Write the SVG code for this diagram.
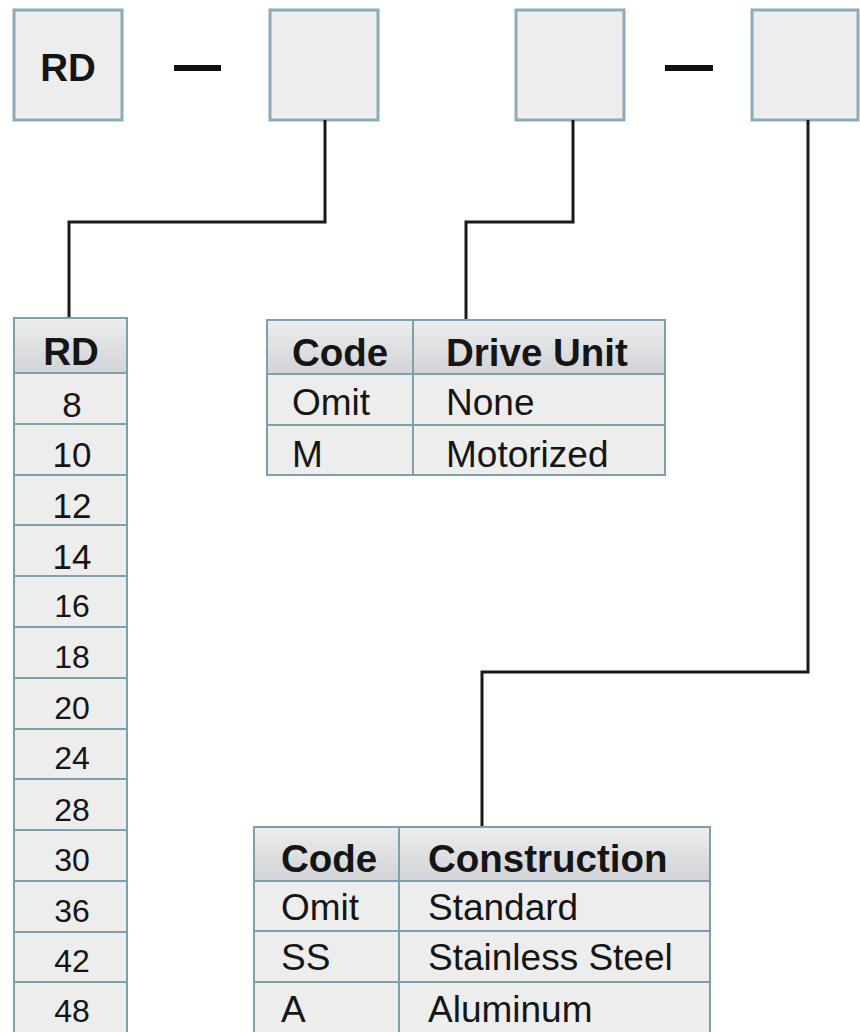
<svg xmlns="http://www.w3.org/2000/svg" width="860" height="1032" viewBox="0 0 860 1032">
<defs>
<linearGradient id="hdr" x1="0" y1="0" x2="0" y2="1">
<stop offset="0" stop-color="#eceded"/>
<stop offset="1" stop-color="#d2d3d7"/>
</linearGradient>
<style>
.box{fill:#ededee;stroke:#8eaab8;stroke-width:3}
.cell{fill:#ededee;stroke:#7f9fae;stroke-width:2}
.head{fill:url(#hdr);stroke:#7f9fae;stroke-width:2}
.conn{fill:none;stroke:#1a1a1a;stroke-width:3}
.t{font-family:"Liberation Sans",Arial,Helvetica,sans-serif;fill:#151515}
.b{font-weight:bold;font-size:38.5px}
.r{font-size:37px}
.n1{font-size:35px}
.n2{font-size:32px}
.c{text-anchor:middle}
.div{stroke:#7f9fae;stroke-width:2}
</style>
</defs>
<rect width="860" height="1032" fill="#ffffff"/>

<g id="code-rd">
<rect class="box" x="14" y="10" width="108" height="110"/>
<text class="t b c" x="68" y="81">RD</text>
</g>
<g id="dash-1"><rect x="174" y="65" width="47" height="6" fill="#111"/></g>
<g id="code-size"><rect class="box" x="270" y="10" width="108" height="110"/></g>
<g id="code-drive"><rect class="box" x="516" y="10" width="108" height="110"/></g>
<g id="dash-2"><rect x="665" y="65" width="48" height="6" fill="#111"/></g>
<g id="code-construction"><rect class="box" x="752" y="10" width="106" height="110"/></g>

<g id="connectors">
<polyline class="conn" points="325,120 325,222 69,222 69,318"/>
<polyline class="conn" points="573,120 573,222 466,222 466,320"/>
<polyline class="conn" points="808,120 808,672 482,672 482,827"/>
</g>

<g id="table-rd">
<rect class="head" x="14" y="318" width="113" height="55"/>
<text class="t b c" x="71" y="365">RD</text>
<rect class="cell" x="14" y="373" width="113" height="51"/>
<text class="t n1 c" x="72" y="417">8</text>
<rect class="cell" x="14" y="424" width="113" height="51"/>
<text class="t n1 c" x="72" y="467">10</text>
<rect class="cell" x="14" y="475" width="113" height="50"/>
<text class="t n1 c" x="72" y="518">12</text>
<rect class="cell" x="14" y="525" width="113" height="51"/>
<text class="t n1 c" x="72" y="569">14</text>
<rect class="cell" x="14" y="576" width="113" height="51"/>
<text class="t n2 c" x="72" y="617">16</text>
<rect class="cell" x="14" y="627" width="113" height="51"/>
<text class="t n2 c" x="72" y="668">18</text>
<rect class="cell" x="14" y="678" width="113" height="51"/>
<text class="t n2 c" x="72" y="719">20</text>
<rect class="cell" x="14" y="729" width="113" height="50"/>
<text class="t n2 c" x="72" y="769">24</text>
<rect class="cell" x="14" y="779" width="113" height="51"/>
<text class="t n2 c" x="72" y="821">28</text>
<rect class="cell" x="14" y="830" width="113" height="51"/>
<text class="t n2 c" x="72" y="871">30</text>
<rect class="cell" x="14" y="881" width="113" height="51"/>
<text class="t n2 c" x="72" y="922">36</text>
<rect class="cell" x="14" y="932" width="113" height="50"/>
<text class="t n2 c" x="72" y="972">42</text>
<rect class="cell" x="14" y="982" width="113" height="52"/>
<text class="t n2 c" x="72" y="1022">48</text>
</g>

<g id="table-drive">
<rect class="head" x="267" y="320" width="398" height="54"/>
<text class="t b" x="292" y="366">Code</text>
<text class="t b" x="446" y="366">Drive Unit</text>
<rect class="cell" x="267" y="374" width="398" height="51"/>
<text class="t r" x="292" y="415">Omit</text>
<text class="t r" x="446" y="415">None</text>
<rect class="cell" x="267" y="425" width="398" height="50"/>
<text class="t r" x="292" y="467">M</text>
<text class="t r" x="446" y="467">Motorized</text>
<line class="div" x1="413" y1="320" x2="413" y2="475"/>
</g>

<g id="table-construction">
<rect class="head" x="254" y="827" width="456" height="54"/>
<text class="t b" x="281" y="872">Code</text>
<text class="t b" x="428" y="872">Construction</text>
<rect class="cell" x="254" y="881" width="456" height="50"/>
<text class="t r" x="281" y="920">Omit</text>
<text class="t r" x="428" y="920">Standard</text>
<rect class="cell" x="254" y="931" width="456" height="51"/>
<text class="t r" x="281" y="970">SS</text>
<text class="t r" x="428" y="970">Stainless Steel</text>
<rect class="cell" x="254" y="982" width="456" height="52"/>
<text class="t r" x="281" y="1022">A</text>
<text class="t r" x="428" y="1022">Aluminum</text>
<line class="div" x1="399" y1="827" x2="399" y2="1032"/>
</g>
</svg>
